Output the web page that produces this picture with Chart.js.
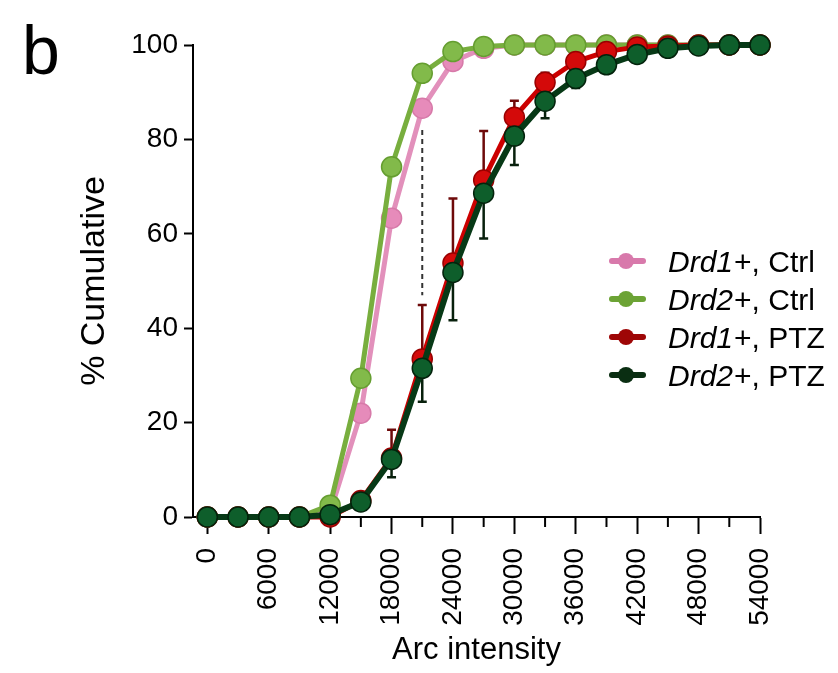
<!DOCTYPE html>
<html>
<head>
<meta charset="utf-8">
<script src="https://cdn.jsdelivr.net/npm/chart.js@4"></script>
<style>
html,body{margin:0;padding:0;background:#fff;}
#wrap{position:relative;width:838px;height:673px;}
</style>
</head>
<body>
<div id="wrap"><canvas id="c" width="838" height="673"></canvas></div>
<script>
// ---- data ----
const xValues = [0,3000,6000,9000,12000,15000,18000,21000,24000,27000,30000,33000,36000,39000,42000,45000,48000,51000,54000];
const drd1Ctrl = [0,0,0,0,1,22,63.3,86.6,96.5,99.3,100,100,100,100,100,100,100,100,100];
const drd2Ctrl = [0,0,0,0,2.5,29.4,74.2,94,98.6,99.7,100,100,100,100,100,100,100,100,100];
const drd1PTZ  = [0,0,0,0,0,3.5,12.5,33.5,53.8,71.4,84.7,92.1,96.5,98.6,99.6,99.8,100,100,100];
const drd2PTZ  = [0,0,0,0,0.5,3.2,12.2,31.5,51.8,68.6,80.7,88.1,92.9,95.8,98,99.3,99.8,100,100];
const drd1PTZErrUp   = [0,0,0,0,0,0.5,6,11.4,13.7,10.4,3.5,2,1,0.5,0,0,0,0,0];
const drd2PTZErrDown = [0,0,0,0,0,0.5,3.8,7.1,10.1,9.6,6.1,3.6,2,1,0.5,0,0,0,0];
const xTickLabels = [0,6000,12000,18000,24000,30000,36000,42000,48000,54000];
const xMinorTicks = [3000,9000,15000,21000,27000,33000,39000,45000,51000];
const yTickLabels = [0,20,40,60,80,100];
const seriesGene = ['Drd1','Drd2','Drd1','Drd2'];
const seriesRest = ['+, Ctrl','+, Ctrl','+, PTZ','+, PTZ'];
const dashX = 21000;
const dashRange = [82, 47];

const FF = "'Liberation Sans', Arial, Helvetica, sans-serif";
const COLORS = [
  {fill:'#e68bba', border:'#d77aa9', line:'#e290bb', legend:'#d879ab'},
  {fill:'#82ba4a', border:'#659e30', line:'#78ae3e', legend:'#6ca335'},
  {fill:'#d40a0a', border:'#9a0000', line:'#cc0000', legend:'#9e0606', err:'#6e0a0a'},
  {fill:'#0e5e2b', border:'#03230c', line:'#073916', legend:'#0a2e12', err:'#08200c'}
];

function mkDs(i, values, order, extra) {
  const c = COLORS[i];
  return Object.assign({
    label: seriesGene[i] + seriesRest[i],
    data: xValues.map((x, k) => ({x: x, y: values[k]})),
    borderColor: c.line,
    backgroundColor: c.fill,
    pointBackgroundColor: c.fill,
    pointBorderColor: c.border,
    pointBorderWidth: 1.5,
    pointRadius: 10,
    pointHoverRadius: 10,
    borderWidth: 5,
    tension: 0,
    clip: false,
    order: order
  }, extra || {});
}

const datasets = [
  mkDs(0, drd1Ctrl, 3),
  mkDs(1, drd2Ctrl, 2),
  mkDs(2, drd1PTZ, 1, {errUp: drd1PTZErrUp, errColor: COLORS[2].err}),
  mkDs(3, drd2PTZ, 0, {errDown: drd2PTZErrDown, errColor: COLORS[3].err, borderWidth: 6}),
  {
    label: 'dash',
    data: [{x: dashX, y: dashRange[0]}, {x: dashX, y: dashRange[1]}],
    borderColor: '#333',
    borderWidth: 2,
    borderDash: [5, 4],
    pointRadius: 0,
    clip: false,
    order: 10
  }
];

const errorBarPlugin = {
  id: 'errbars',
  beforeDatasetDraw(chart, args) {
    const ds = chart.data.datasets[args.index];
    if (!ds.errUp && !ds.errDown) return;
    const ctx = chart.ctx, xs = chart.scales.x, ys = chart.scales.y;
    ctx.save();
    ctx.strokeStyle = ds.errColor;
    ctx.lineWidth = 2.5;
    ds.data.forEach((p, i) => {
      const e = ds.errUp ? ds.errUp[i] : -ds.errDown[i];
      if (!e) return;
      const px = xs.getPixelForValue(p.x);
      const py = ys.getPixelForValue(p.y);
      const pe = ys.getPixelForValue(p.y + e);
      ctx.beginPath();
      ctx.moveTo(px, py); ctx.lineTo(px, pe);
      ctx.moveTo(px - 4.5, pe); ctx.lineTo(px + 4.5, pe);
      ctx.stroke();
    });
    ctx.restore();
  }
};

const decorPlugin = {
  id: 'decor',
  beforeDatasetsDraw(chart) {
    // minor x ticks
    const ctx = chart.ctx, xs = chart.scales.x;
    ctx.save();
    ctx.strokeStyle = '#000';
    ctx.lineWidth = 2;
    xMinorTicks.forEach(v => {
      const px = xs.getPixelForValue(v);
      ctx.beginPath();
      ctx.moveTo(px, xs.top);
      ctx.lineTo(px, xs.top + 10);
      ctx.stroke();
    });
    ctx.restore();
  },
  afterDraw(chart) {
    const ctx = chart.ctx;
    ctx.save();
    // panel letter
    ctx.fillStyle = '#000';
    ctx.font = "68px " + FF;
    ctx.textBaseline = 'alphabetic';
    ctx.textAlign = 'left';
    ctx.fillText('b', 22, 74);
    // legend
    const x0 = 612, x1 = 643, xd = 626, xt = 668;
    const rows = [261, 299, 337, 375];
    for (let i = 0; i < 4; i++) {
      const y = rows[i];
      const col = COLORS[i].legend;
      ctx.strokeStyle = col;
      ctx.lineWidth = 6;
      ctx.lineCap = 'round';
      ctx.beginPath(); ctx.moveTo(x0, y); ctx.lineTo(x1, y); ctx.stroke();
      ctx.fillStyle = col;
      ctx.beginPath(); ctx.arc(xd, y, 8, 0, Math.PI * 2); ctx.fill();
      ctx.fillStyle = '#000';
      ctx.font = "italic 30px " + FF;
      ctx.fillText(seriesGene[i], xt, y + 11);
      const w = ctx.measureText(seriesGene[i]).width;
      ctx.font = "30px " + FF;
      ctx.fillText(seriesRest[i], xt + w + 1, y + 11);
    }
    ctx.restore();
  }
};

new Chart(document.getElementById('c').getContext('2d'), {
  type: 'line',
  data: {datasets: datasets},
  options: {
    responsive: false,
    animation: false,
    devicePixelRatio: 1,
    events: [],
    layout: {padding: {left: 74, top: 45, right: 78, bottom: 0}},
    plugins: {legend: {display: false}, tooltip: {enabled: false}},
    scales: {
      x: {
        type: 'linear',
        min: -1400,
        max: 54000,
        afterBuildTicks: s => { s.ticks = xTickLabels.map(v => ({value: v})); },
        afterFit: s => { s.height = 156; },
        border: {color: '#000', width: 2},
        grid: {drawOnChartArea: false, tickLength: 17, tickWidth: 2, tickColor: '#000'},
        ticks: {color: '#000', font: {size: 28, family: FF}, padding: 14, minRotation: 90, maxRotation: 90, autoSkip: false, callback: v => String(v)},
        title: {display: true, text: 'Arc intensity', color: '#000', font: {size: 31, family: FF}, padding: {top: 0, bottom: 4}}
      },
      y: {
        type: 'linear',
        min: 0,
        max: 100,
        afterBuildTicks: s => { s.ticks = yTickLabels.map(v => ({value: v})); },
        afterFit: s => { s.width = 119; },
        border: {color: '#000', width: 2},
        grid: {drawOnChartArea: false, tickLength: 9, tickWidth: 2, tickColor: '#000'},
        ticks: {color: '#000', font: {size: 28, family: FF}, padding: 6, callback: v => String(v)},
        title: {display: true, text: '% Cumulative', color: '#000', font: {size: 34, family: FF}, padding: {top: 0, bottom: 0}}
      }
    }
  },
  plugins: [errorBarPlugin, decorPlugin]
});
</script>
</body>
</html>
